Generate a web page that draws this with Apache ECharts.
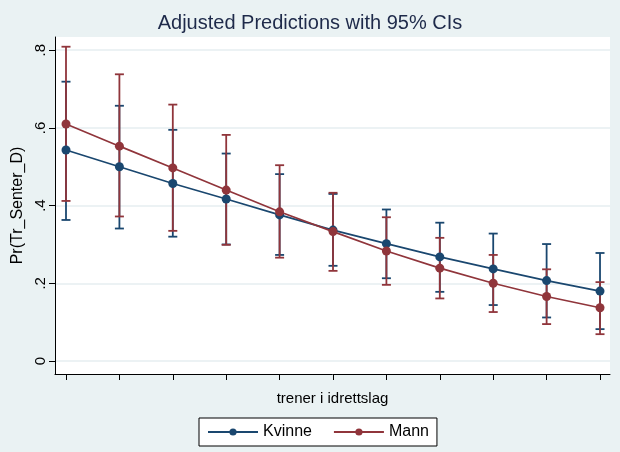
<!DOCTYPE html>
<html>
<head>
<meta charset="utf-8">
<script src="https://cdn.jsdelivr.net/npm/echarts@6/dist/echarts.min.js"></script>
<style>
html,body{margin:0;padding:0;background:#eaf2f3;}
#chart{width:620px;height:452px;}
</style>
</head>
<body>
<div id="chart"></div>
<script>
const xPoints = [0,1,2,3,4,5,6,7,8,9,10];
const kvinneMean = [0.543,0.500,0.457,0.417,0.376,0.337,0.302,0.268,0.237,0.207,0.180];
const kvinneLow  = [0.363,0.341,0.320,0.300,0.273,0.245,0.213,0.178,0.144,0.112,0.082];
const kvinneHigh = [0.719,0.657,0.595,0.534,0.481,0.430,0.390,0.356,0.328,0.301,0.278];
const mannMean = [0.610,0.553,0.497,0.440,0.384,0.333,0.283,0.239,0.200,0.166,0.137];
const mannLow  = [0.412,0.372,0.335,0.299,0.266,0.232,0.196,0.161,0.126,0.095,0.069];
const mannHigh = [0.809,0.738,0.660,0.582,0.504,0.433,0.370,0.317,0.273,0.236,0.203];
const yTickValues = [0,0.2,0.4,0.6,0.8];
const yTickLabels = ['0','.2','.4','.6','.8'];
const seriesNames = ['Kvinne','Mann'];

const NAVY = '#1a476f';
const MAROON = '#90353b';
const FONT = 'Liberation Sans, Arial, sans-serif';

function ciData(low, high){ return xPoints.map((x,i)=>[x, low[i], high[i]]); }
function lineData(mean){ return xPoints.map((x,i)=>[x, mean[i]]); }

function ciRender(color){
  return function(params, api){
    const x = api.value(0);
    const lo = api.coord([x, api.value(1)]);
    const hi = api.coord([x, api.value(2)]);
    const hw = 4.5;
    const style = {stroke: color, lineWidth: 1.8, fill: 'none'};
    return {type:'group', children:[
      {type:'line', shape:{x1:lo[0],y1:lo[1],x2:hi[0],y2:hi[1]}, style:style},
      {type:'line', shape:{x1:lo[0]-hw,y1:lo[1],x2:lo[0]+hw,y2:lo[1]}, style:style},
      {type:'line', shape:{x1:hi[0]-hw,y1:hi[1],x2:hi[0]+hw,y2:hi[1]}, style:style}
    ]};
  };
}

const chart = echarts.init(document.getElementById('chart'), null, {renderer:'canvas'});
chart.setOption({
  backgroundColor: '#eaf2f3',
  animation: false,
  title: {
    text: 'Adjusted Predictions with 95% CIs',
    left: 'center', top: 8,
    textStyle: {fontFamily: FONT, fontSize: 20, fontWeight: 'normal', color: '#1e2a4a'}
  },
  legend: {
    left: 199, top: 418,
    data: seriesNames,
    itemWidth: 50, itemHeight: 9, itemGap: 21,
    padding: [6, 8, 6, 8],
    backgroundColor: '#ffffff',
    borderColor: '#000000', borderWidth: 1, borderRadius: 0,
    textStyle: {fontFamily: FONT, fontSize: 16, color: '#000'}
  },
  grid: {
    left: 55, right: 10, top: 37, bottom: 78,
    show: true, backgroundColor: '#ffffff', borderWidth: 0
  },
  xAxis: {
    type: 'value', min: -0.206, max: 10.187,
    name: 'trener i idrettslag', nameLocation: 'middle', nameGap: 17,
    nameTextStyle: {fontFamily: FONT, fontSize: 15, color: '#000'},
    axisLine: {show: true, onZero: false, lineStyle: {color: '#000', width: 1}},
    axisTick: {show: true, length: 6, customValues: xPoints, lineStyle: {color: '#000'}},
    axisLabel: {show: false},
    splitLine: {show: false}
  },
  yAxis: {
    type: 'value', min: -0.0335, max: 0.834,
    name: 'Pr(Tr_Senter_D)', nameLocation: 'middle', nameGap: 29, nameRotate: 90,
    nameTextStyle: {fontFamily: FONT, fontSize: 16, color: '#000'},
    axisLine: {show: true, onZero: false, lineStyle: {color: '#000', width: 1}},
    axisTick: {show: true, length: 6, customValues: yTickValues, lineStyle: {color: '#000'}},
    axisLabel: {
      show: true, rotate: 90, margin: 7, customValues: yTickValues,
      fontFamily: FONT, fontSize: 15, color: '#000',
      formatter: function(v){ const i = yTickValues.indexOf(v); return i >= 0 ? yTickLabels[i] : ''; }
    },
    splitLine: {show: true, lineStyle: {color: '#e6eef0', width: 1.5}}
  },
  series: [
    {name:'Kvinne CI', type:'custom', renderItem: ciRender(NAVY), data: ciData(kvinneLow, kvinneHigh), z: 2, silent: true},
    {name:'Mann CI', type:'custom', renderItem: ciRender(MAROON), data: ciData(mannLow, mannHigh), z: 3, silent: true},
    {name:'Kvinne', type:'line', data: lineData(kvinneMean), color: NAVY,
     symbol:'circle', symbolSize: 9, lineStyle:{width:1.7, color: NAVY}, itemStyle:{color: NAVY}, z: 4},
    {name:'Mann', type:'line', data: lineData(mannMean), color: MAROON,
     symbol:'circle', symbolSize: 9, lineStyle:{width:1.7, color: MAROON}, itemStyle:{color: MAROON}, z: 5}
  ]
});
</script>
</body>
</html>
